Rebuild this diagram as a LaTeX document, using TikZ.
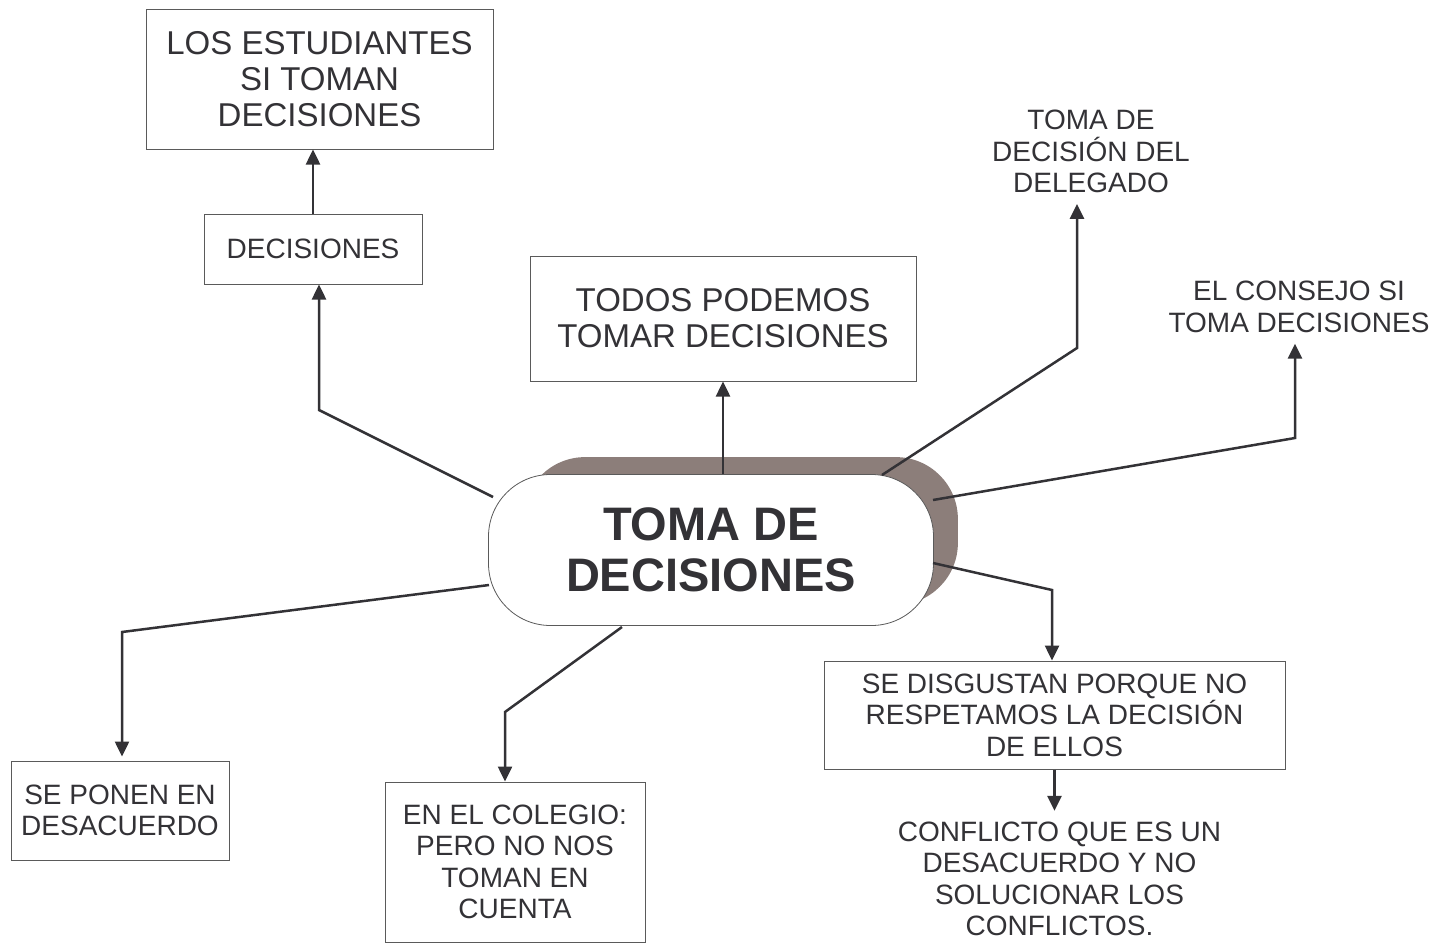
\documentclass[tikz,border=0pt]{standalone}
\usepackage{fontspec}
\setmainfont{Liberation Sans}
\usetikzlibrary{arrows.meta,positioning,calc,backgrounds}
\definecolor{inkgray}{HTML}{333236}
\definecolor{framegray}{HTML}{5A5A5A}
\definecolor{shadowbrown}{HTML}{8C7E7A}

\begin{document}
\begin{tikzpicture}[x=1pt,y=-1pt,
  every node/.style={text=inkgray,align=center,inner sep=0pt},
  box/.style={draw=framegray,line width=1pt,fill=white},
  txt/.style={font=\fontsize{28pt}{31.5pt}\selectfont},
  bigtxt/.style={font=\fontsize{33pt}{36pt}\selectfont},
  loose/.style={txt,outer sep=11pt},
  link/.style={draw=inkgray,line width=2.5pt,line join=miter},
  tolink/.style={link,-{Triangle[length=15pt,width=14pt]}}]
  \useasboundingbox (0,0) rectangle (1441,943);

  \node[box,bigtxt,minimum width=347pt,minimum height=140pt] (estud) at (319.5,79) {LOS ESTUDIANTES\\SI TOMAN\\DECISIONES};
  \node[box,txt,minimum width=218pt,minimum height=70pt] (decis) at (313,249) {DECISIONES};
  \node[box,bigtxt,minimum width=386pt,minimum height=125pt] (todos) at (723,318.5) {TODOS PODEMOS\\TOMAR DECISIONES};
  \node[loose] (delegado) at (1091,151.5) {TOMA DE\\DECISIÓN DEL\\DELEGADO};
  \node[loose] (consejo) at (1299,307) {EL CONSEJO SI\\TOMA DECISIONES};
  \node[box,line width=0.8pt,rounded corners=62pt,minimum width=445pt,minimum height=151pt,
        font=\bfseries\fontsize{47pt}{51pt}\selectfont] (hub) at (711,550) {TOMA DE\\DECISIONES};
  \node[box,txt,minimum width=218pt,minimum height=99pt] (desac) at (120,810.5) {SE PONEN EN\\DESACUERDO};
  \node[box,txt,minimum width=260pt,minimum height=160pt] (colegio) at (515,862) {EN EL COLEGIO:\\PERO NO NOS\\TOMAN EN\\CUENTA};
  \node[box,txt,minimum width=461pt,minimum height=108pt] (disgust) at (1054.5,715) {SE DISGUSTAN PORQUE NO\\RESPETAMOS LA DECISIÓN\\DE ELLOS};
  \node[loose] (conflicto) at (1059.5,879) {CONFLICTO QUE ES UN\\DESACUERDO Y NO\\SOLUCIONAR LOS\\CONFLICTOS.};

  \begin{scope}[on background layer]
    \fill[shadowbrown,rounded corners=62pt] ($(hub.north west)+(35,-17)$) rectangle ($(hub.south east)+(24,-21)$);
  \end{scope}

  \coordinate (h1) at (493,497);  \coordinate (k1) at (319,410);
  \coordinate (h3) at (882,475);  \coordinate (k3) at (1077,348);
  \coordinate (h4) at (933,500);  \coordinate (k4) at (1295,438);
  \coordinate (h5) at (933,563);  \coordinate (k5) at (1052,590);
  \coordinate (h7) at (622,627);  \coordinate (k7) at (505,712);
  \coordinate (h8) at (489,585);  \coordinate (k8) at (122,632);

  \draw[tolink] (h1) -- (k1) -- (decis.south -| k1);
  \draw[tolink] (decis.north) -- (decis.north |- estud.south);
  \draw[tolink] (hub.north -| todos) -- (todos.south);
  \draw[tolink] (h3) -- (k3) -- (k3 |- delegado.south);
  \draw[tolink] (h4) -- (k4) -- (k4 |- consejo.south);
  \draw[tolink] (h5) -- (k5) -- (k5 |- disgust.north);
  \draw[tolink] (disgust.south) -- (disgust.south |- conflicto.north);
  \draw[tolink] (h7) -- (k7) -- (k7 |- colegio.north);
  \draw[tolink,shorten >=4pt] (h8) -- (k8) -- (k8 |- desac.north);
\end{tikzpicture}
\end{document}
